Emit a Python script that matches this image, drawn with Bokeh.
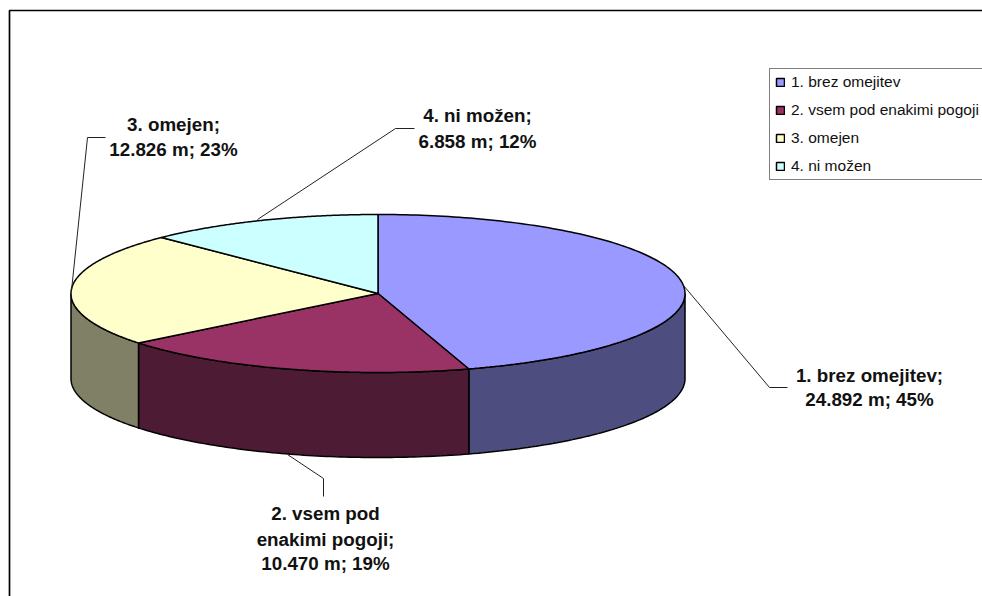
import numpy as np
from bokeh.plotting import figure
from bokeh.models import Legend, LegendItem, ColumnDataSource
from bokeh.core.properties import value
from bokeh.embed import file_html
from bokeh.resources import INLINE

categories = ["1. brez omejitev", "2. vsem pod enakimi pogoji", "3. omejen", "4. ni možen"]
metres = [24892, 10470, 12826, 6858]
percents = [45, 19, 23, 12]
metre_labels = ["24.892", "10.470", "12.826", "6.858"]
top_colors = ["#9999FF", "#993366", "#FFFFCC", "#CCFFFF"]
side_colors = ["#4D4D80", "#4D1B33", "#808066", "#668080"]

CX, CY, RX, RY, DEPTH = 377.5, 293, 307, 79, 85

p = figure(width=982, height=596, output_backend="svg", toolbar_location=None,
           x_range=(0, 982), y_range=(596, 0), min_border=0,
           background_fill_color="white", border_fill_color="white",
           outline_line_color=None)
p.axis.visible = False
p.grid.visible = False

# chart frame
p.line([9, 9, 990], [605, 10, 10], line_color="black", line_width=1.7)

def ex(t):
    return CX + RX * np.sin(t)

def ey(t, drop=0):
    return CY - RY * np.cos(t) + drop

fractions = np.array(metres) / sum(metres)
edges = np.concatenate([[0], np.cumsum(fractions)]) * 2 * np.pi

# side walls (visible only on the front half of the ellipse)
for i in range(len(metres)):
    a, b = max(edges[i], np.pi / 2), min(edges[i + 1], 3 * np.pi / 2)
    if b <= a:
        continue
    t = np.linspace(a, b, 80)
    xs = np.concatenate([ex(t), ex(t[::-1])])
    ys = np.concatenate([ey(t), ey(t[::-1], DEPTH)])
    p.patch(xs, ys, fill_color=side_colors[i], line_color="black", line_width=1.5)

# top faces
tops = []
for i in range(len(metres)):
    t = np.linspace(edges[i], edges[i + 1], 160)
    xs = np.concatenate([[CX], ex(t)])
    ys = np.concatenate([[CY], ey(t)])
    r = p.patch(xs, ys, fill_color=top_colors[i], line_color="black", line_width=1.5)
    tops.append(r)

# leader lines
leaders = [
    ([683, 769, 787], [285, 387, 387]),
    ([287, 323, 323], [454, 478, 496]),
    ([71, 87, 105], [290, 137, 137]),
    ([257, 395, 414], [219, 128, 128]),
]
for lx, ly in leaders:
    p.line(lx, ly, line_color="#222222", line_width=1)

# data labels
label_lines = [
    ([f"{categories[0]};", f"{metre_labels[0]} m; {percents[0]}%"], 869, [375, 399]),
    (["2. vsem pod", "enakimi pogoji;", f"{metre_labels[1]} m; {percents[1]}%"], 325, [513, 539, 563]),
    ([f"{categories[2]};", f"{metre_labels[2]} m; {percents[2]}%"], 173, [124, 149]),
    ([f"{categories[3]};", f"{metre_labels[3]} m; {percents[3]}%"], 477, [115, 141]),
]
for lines, x, ys in label_lines:
    src = ColumnDataSource(dict(x=[x] * len(lines), y=ys, text=lines))
    p.text(x="x", y="y", text="text", source=src, text_font=value("Liberation Sans"),
           text_font_size="18.8px", text_font_style="bold", text_color="#111111",
           text_align="center", text_baseline="middle")

# legend
legend = Legend(items=[LegendItem(label=c, renderers=[r]) for c, r in zip(categories, tops)],
                location=(769, 416), orientation="vertical", margin=0, padding=(5, 4), spacing=10,
                glyph_width=10, glyph_height=10, label_standoff=6,
                label_text_font="Liberation Sans", label_text_font_size="15.5px",
                label_text_color="#111111", label_height=17,
                border_line_color="black", border_line_width=1,
                background_fill_color="white", background_fill_alpha=1)
p.add_layout(legend)

open("out.html", "w").write(file_html(p, INLINE))
